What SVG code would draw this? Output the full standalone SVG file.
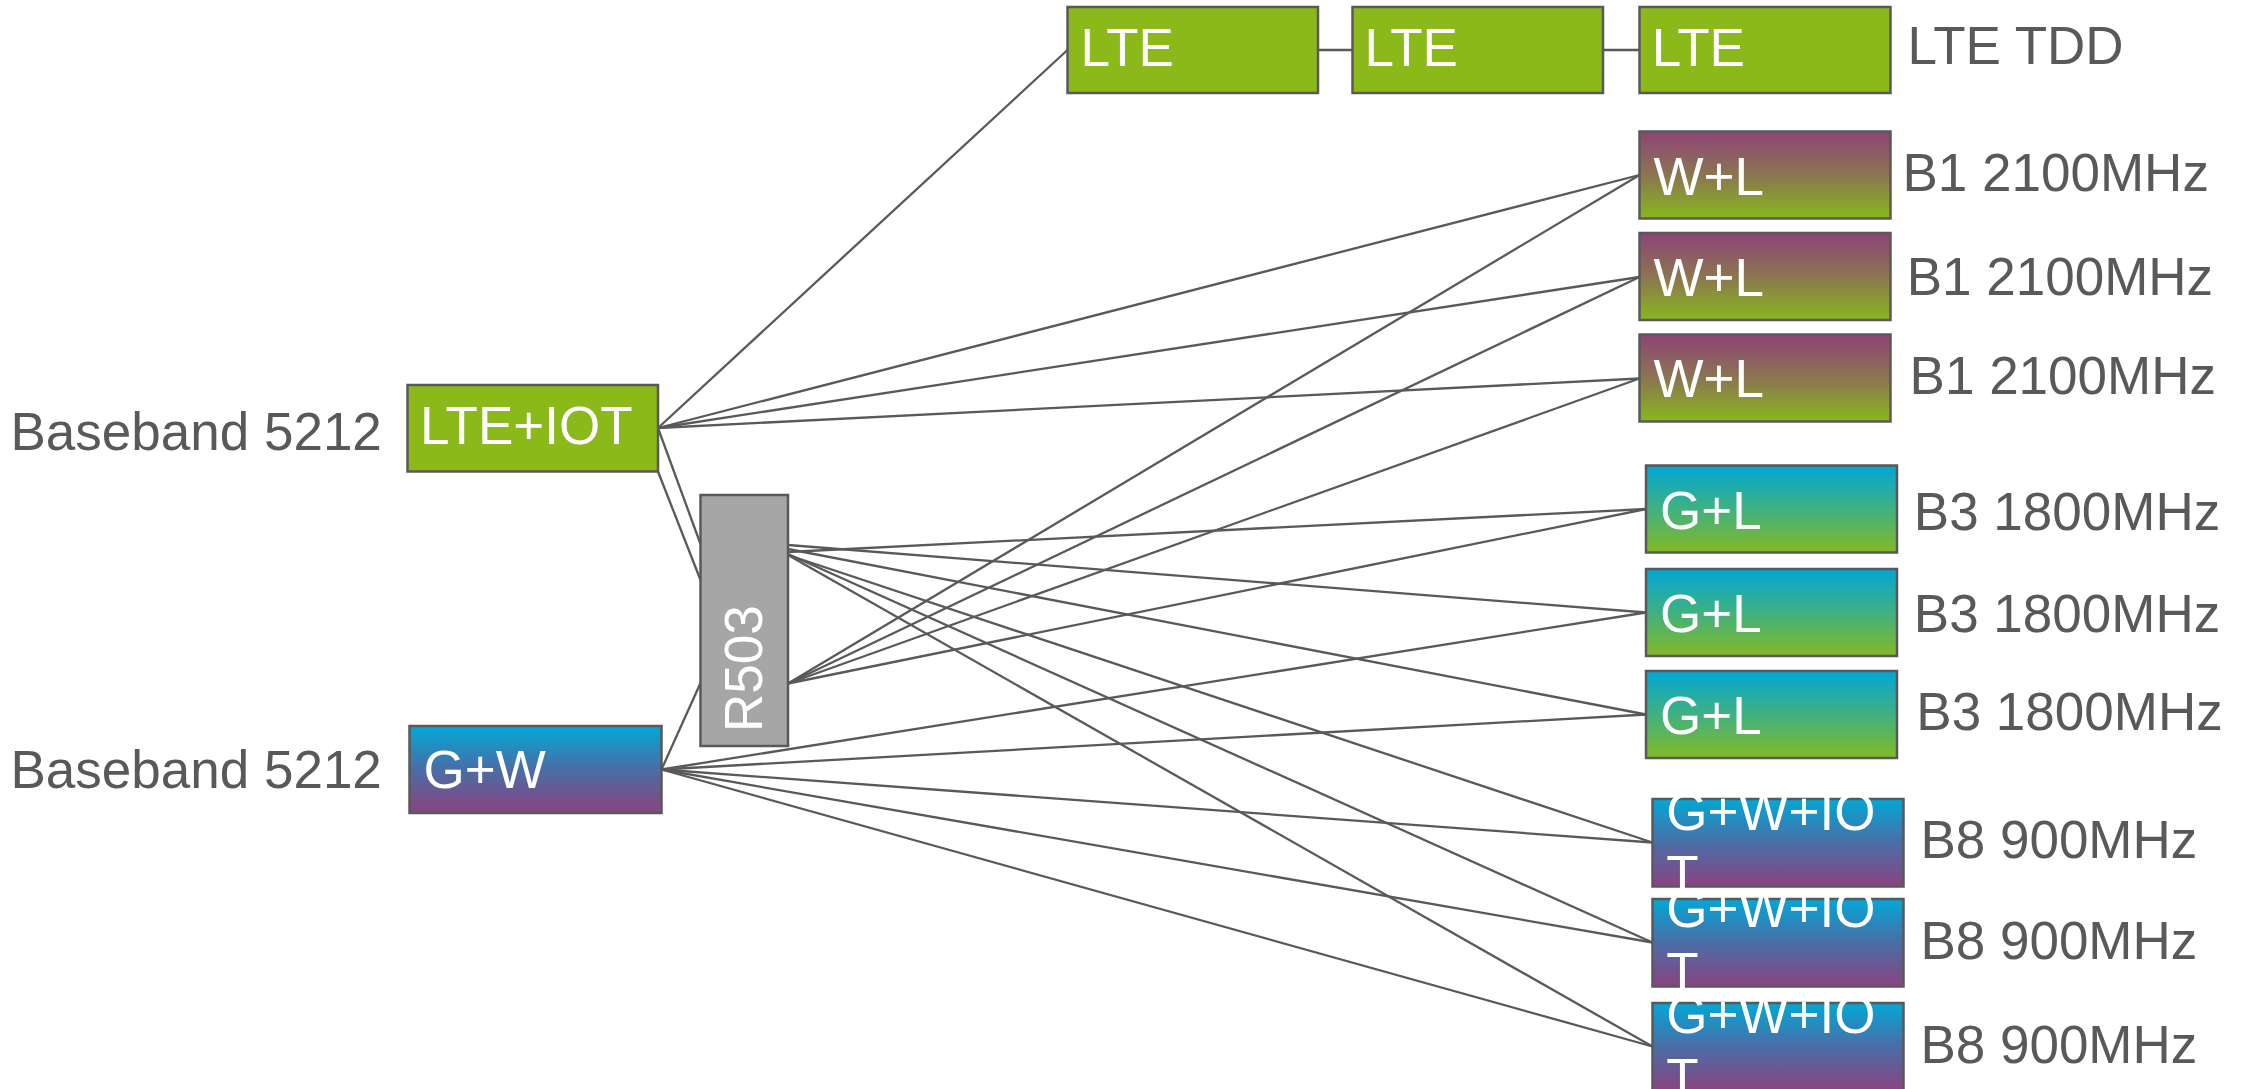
<svg xmlns="http://www.w3.org/2000/svg" width="2254" height="1089" viewBox="0 0 2254 1089">
<style>
.box{stroke:#595959;stroke-width:2.5}
.in{fill:#ffffff;font-family:"Liberation Sans",Arial,sans-serif;font-size:53px}
.lb{fill:#595959;font-family:"Liberation Sans",Arial,sans-serif;font-size:53px}
.cn line{stroke:#595959;stroke-width:2.3;fill:none}
</style>
<defs>
<linearGradient id="gWL" x1="0" y1="0" x2="0" y2="1"><stop offset="0" stop-color="#8e4377"/><stop offset="0.5" stop-color="#8b7550"/><stop offset="1" stop-color="#88b81c"/></linearGradient>
<linearGradient id="gGL" x1="0" y1="0" x2="0" y2="1"><stop offset="0" stop-color="#02a6d6"/><stop offset="0.5" stop-color="#3fb180"/><stop offset="1" stop-color="#84b925"/></linearGradient>
<linearGradient id="gGW" x1="0" y1="0" x2="0" y2="1"><stop offset="0" stop-color="#02a8d6"/><stop offset="0.5" stop-color="#4a6da6"/><stop offset="1" stop-color="#8a4380"/></linearGradient>
</defs>
<rect width="2254" height="1089" fill="#ffffff"/>
<g id="connectors" class="cn">
<line x1="1318" y1="50" x2="1352.5" y2="50"/>
<line x1="1603" y1="50" x2="1639.5" y2="50"/>
<line x1="658" y1="428" x2="1067.5" y2="50"/>
<line x1="658" y1="428" x2="1639.5" y2="175"/>
<line x1="658" y1="428" x2="1639.5" y2="277"/>
<line x1="658" y1="428" x2="1639.5" y2="378.5"/>
<line x1="658" y1="428" x2="700.5" y2="544"/>
<line x1="658" y1="471.5" x2="700.5" y2="580"/>
<line x1="661.5" y1="769.5" x2="700.5" y2="683"/>
<line x1="661.5" y1="769.5" x2="1646" y2="612.5"/>
<line x1="661.5" y1="769.5" x2="1646" y2="714.5"/>
<line x1="661.5" y1="769.5" x2="1652.5" y2="842.5"/>
<line x1="661.5" y1="769.5" x2="1652.5" y2="942.5"/>
<line x1="661.5" y1="769.5" x2="1652.5" y2="1046.5"/>
<line x1="788" y1="552" x2="1646" y2="509"/>
<line x1="788" y1="545" x2="1646" y2="612.5"/>
<line x1="788" y1="549" x2="1646" y2="714.5"/>
<line x1="788" y1="555" x2="1652.5" y2="842.5"/>
<line x1="788" y1="554" x2="1652.5" y2="942.5"/>
<line x1="788" y1="555" x2="1652.5" y2="1046.5"/>
<line x1="788" y1="683.5" x2="1639.5" y2="175"/>
<line x1="788" y1="683.5" x2="1639.5" y2="277"/>
<line x1="788" y1="683.5" x2="1639.5" y2="378.5"/>
<line x1="788" y1="683.5" x2="1646" y2="509"/>
</g>
<g id="bb1"><text class="lb" x="10.5" y="450">Baseband 5212</text></g>
<g id="bb2"><text class="lb" x="10.5" y="788">Baseband 5212</text></g>
<g id="lteiot"><rect class="box" x="407.5" y="385" width="250.5" height="86.5" fill="#8ab919"/><text class="in" x="420" y="444">LTE+IOT</text></g>
<g id="gw"><rect class="box" x="409.5" y="726" width="252" height="87" fill="url(#gGW)"/><text class="in" x="423.5" y="788">G+W</text></g>
<g id="r503"><rect class="box" x="700.5" y="495" width="87.5" height="251" fill="#a6a6a6"/><text class="in" transform="translate(761.5,732) rotate(-90)">R503</text></g>
<g id="lte1"><rect class="box" x="1067.5" y="7" width="250.5" height="86" fill="#8ab919"/><text class="in" x="1080.6" y="65.7">LTE</text></g>
<g id="lte2"><rect class="box" x="1352.5" y="7" width="250.5" height="86" fill="#8ab919"/><text class="in" x="1364.6" y="65.7">LTE</text></g>
<g id="lte3"><rect class="box" x="1639.5" y="7" width="251" height="86" fill="#8ab919"/><text class="in" x="1651.7" y="65.7">LTE</text></g>
<g id="ltetdd"><text class="lb" x="1907.6" y="64.3">LTE TDD</text></g>
<g id="wl1"><rect class="box" x="1639.5" y="131.5" width="251" height="87" fill="url(#gWL)"/><text class="in" x="1653.5" y="195">W+L</text><text class="lb" x="1902.5" y="190.7">B1 2100MHz</text></g>
<g id="wl2"><rect class="box" x="1639.5" y="233" width="251" height="87" fill="url(#gWL)"/><text class="in" x="1653.5" y="295.7">W+L</text><text class="lb" x="1906.7" y="295">B1 2100MHz</text></g>
<g id="wl3"><rect class="box" x="1639.5" y="334.5" width="251" height="87" fill="url(#gWL)"/><text class="in" x="1653.5" y="396.7">W+L</text><text class="lb" x="1909.6" y="394">B1 2100MHz</text></g>
<g id="gl1"><rect class="box" x="1646" y="465.5" width="251" height="87" fill="url(#gGL)"/><text class="in" x="1660" y="528.7">G+L</text><text class="lb" x="1913.8" y="530">B3 1800MHz</text></g>
<g id="gl2"><rect class="box" x="1646" y="569" width="251" height="87" fill="url(#gGL)"/><text class="in" x="1660" y="631.7">G+L</text><text class="lb" x="1913.8" y="631.7">B3 1800MHz</text></g>
<g id="gl3"><rect class="box" x="1646" y="671" width="251" height="87" fill="url(#gGL)"/><text class="in" x="1660" y="733.7">G+L</text><text class="lb" x="1916.3" y="730">B3 1800MHz</text></g>
<g id="gwi1"><rect class="box" x="1652.5" y="799" width="251" height="87.5" fill="url(#gGW)"/><text class="in" x="1666.3" y="830">G+W+IO<tspan x="1666.3" dy="63">T</tspan></text><text class="lb" x="1920.4" y="858.3">B8 900MHz</text></g>
<g id="gwi2"><rect class="box" x="1652.5" y="899" width="251" height="87.5" fill="url(#gGW)"/><text class="in" x="1666.3" y="927">G+W+IO<tspan x="1666.3" dy="63">T</tspan></text><text class="lb" x="1920.4" y="959.3">B8 900MHz</text></g>
<g id="gwi3"><rect class="box" x="1652.5" y="1003" width="251" height="87.5" fill="url(#gGW)"/><text class="in" x="1666.3" y="1033">G+W+IO<tspan x="1666.3" dy="63">T</tspan></text><text class="lb" x="1920.4" y="1063.3">B8 900MHz</text></g>
</svg>
